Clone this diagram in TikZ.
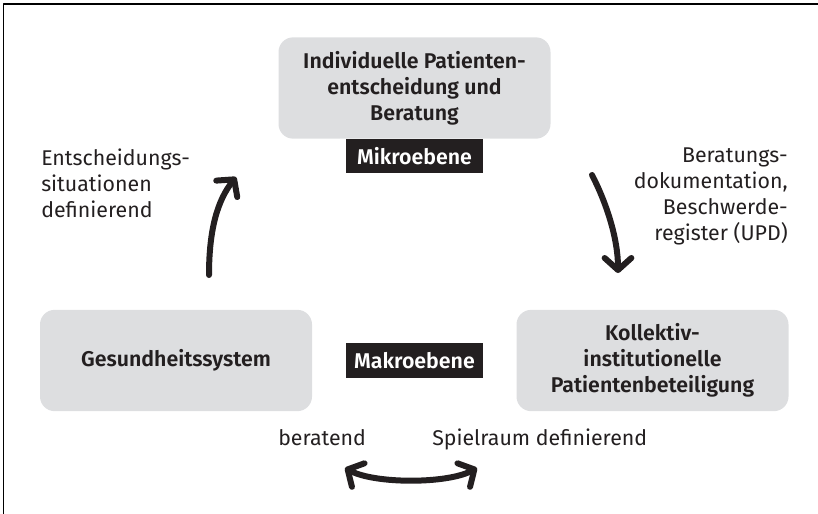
\documentclass[tikz,border=0pt]{standalone}
\usepackage{fontspec}
\setmainfont{Fira Sans}[BoldFont={Fira Sans SemiBold}]
\usetikzlibrary{arrows.meta}
\definecolor{boxgray}{HTML}{DDDEE0}
\definecolor{ink}{HTML}{231F20}
\begin{document}
\begin{tikzpicture}[x=0.75pt,y=-0.75pt, line join=round, line cap=round,
    >={Straight Barb[length=9pt,width=20pt,round]},
    feld/.style={fill=boxgray, rounded corners=11pt, minimum width=204pt, minimum height=76pt,
      inner sep=0pt, align=center, text=ink, font=\fontsize{16}{19.5}\selectfont\bfseries},
    ebene/.style={fill=ink, text=white, minimum width=103pt, minimum height=26pt,
      inner sep=0pt, font=\fontsize{16}{19.5}\selectfont\bfseries},
    txt/.style={inner sep=0pt, text=ink, font=\fontsize{16}{19.5}\selectfont},
    pfeil/.style={line width=4.5pt, draw=ink}]
  \useasboundingbox (0,0) rectangle (818,514);
  \draw[line width=1pt] (3.5,514) -- (3.5,4) -- (818,4);
  % Felder
  \node[feld] (mikro) at (414.5,88) {Individuelle Patienten-\\entscheidung und\\Beratung};
  \node[feld] (system) at (176,360.5) {Gesundheitssystem};
  \node[feld] (kollektiv) at (652.5,360.5) {Kollektiv-\\institutionelle\\Patientenbeteiligung};
  \node[ebene] (mikrolabel) at (414.5,156) {Mikroebene};
  \node[ebene] (makrolabel) at (414.5,360.5) {Makroebene};
  % Beschriftungen
  \node[txt, anchor=west, align=left] (links) at (41,183) {Entscheidungs-\\situationen\\definierend};
  \node[txt, anchor=east, align=right] (rechts) at (788,196) {Beratungs-\\dokumentation,\\Beschwerde-\\register (UPD)};
  \node[txt, anchor=base west] (beratend) at (278,445) {beratend};
  \node[txt, anchor=base west] (spielraum) at (432,445) {Spielraum definierend};
  % Pfeile
  \coordinate (a1) at (209,275); \coordinate (a2) at (236,177);
  \coordinate (b1) at (592,175); \coordinate (b2) at (618,273);
  \coordinate (c1) at (345,468); \coordinate (c2) at (477,468);
  \draw[pfeil,->] (a1) .. controls (209,228) and (218,200) .. (a2);
  \draw[pfeil,->] (b1) .. controls (606,202) and (618,238) .. (b2);
  \draw[pfeil,<->] (c1) .. controls (375,484) and (447,484) .. (c2);
\end{tikzpicture}
\end{document}
